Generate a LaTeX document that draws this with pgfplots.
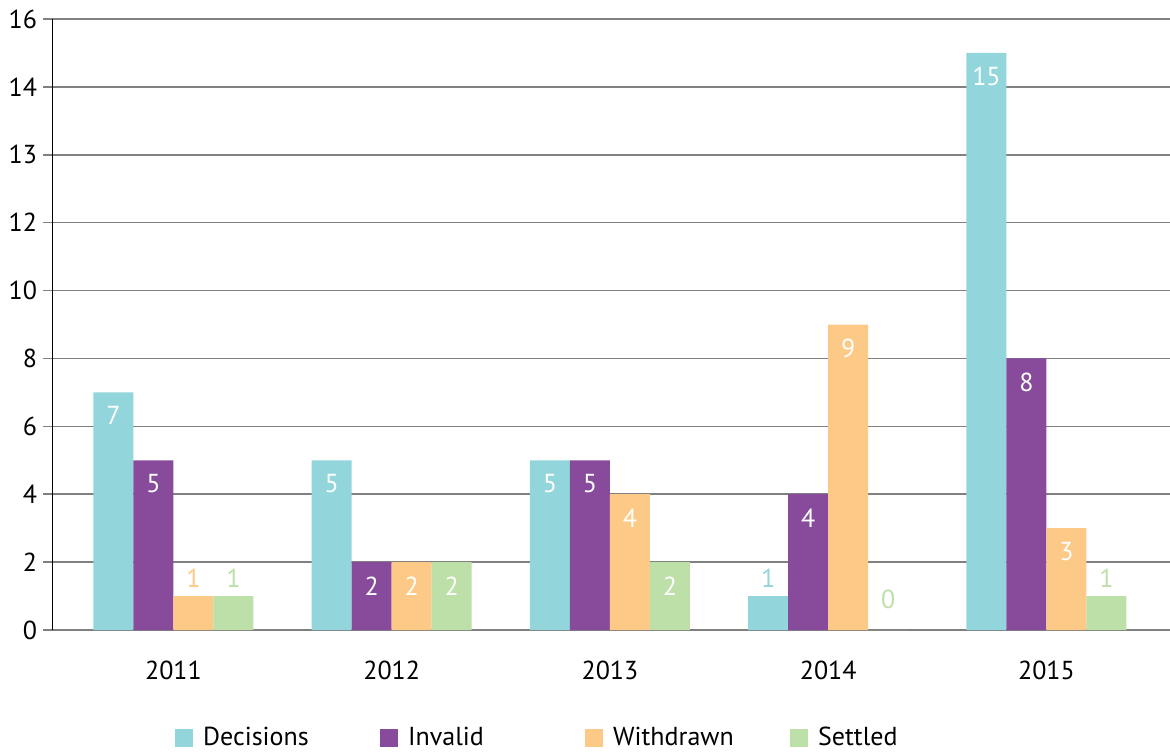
\documentclass[border=0pt]{standalone}
\usepackage{pgfplots}
\usepackage{pgfplotstable}
\pgfplotsset{compat=1.18}
\usepackage{fontspec}
\setmainfont{PT Sans}
\definecolor{cDec}{HTML}{92D5DB}
\definecolor{cInv}{HTML}{884A9B}
\definecolor{cWit}{HTML}{FDC986}
\definecolor{cSet}{HTML}{BDDFA8}
\definecolor{gridc}{HTML}{808080}

\pgfplotstableread{
x d i w s
0 7 5 1 1
1 5 2 2 2
2 5 5 4 2
3 1 4 9 0
4 15 8 3 1
}\datatable

\pgfplotsset{
  mylegend/.style={legend image code/.code={\fill[##1] (0pt,-4.5pt) rectangle (9pt,4.5pt);}},
  inlab/.style={forget plot, draw=none, fill=none, bar shift=#1,
    point meta=explicit,
    nodes near coords,
    nodes near coords style={font=\fontsize{13}{15}\selectfont, inner sep=0pt, anchor=north, text=white, yshift=-7pt}},
  outlab/.style 2 args={forget plot, draw=none, fill=none, bar shift=#1,
    point meta=explicit,
    nodes near coords,
    nodes near coords style={font=\fontsize{13}{15}\selectfont, inner sep=0pt, anchor=south, text=#2, yshift=4pt}},
}

\begin{document}
\begin{tikzpicture}
\begin{axis}[
  scale only axis, width=558.5pt, height=305.5pt,
  ybar=0pt, bar width=20pt,
  xmin=-0.552, xmax=4.566,
  ymin=0, ymax=16,
  y coord trafo/.code={\pgfmathparse{(#1<=12)*(#1)+and(#1>12,#1<=14)*(12+2*(#1-12))+(#1>14)*(16+(#1-14))}},
  ytick={0,2,4,6,8,10,12,13,14,16},
  yticklabels={0,2,4,6,8,10,12,13,14,16},
  xtick={0,1,2,3,4}, xticklabels={2011,2012,2013,2014,2015},
  x tick style={draw=none},
  extra x ticks={-0.552,0.451,1.51,2.51,3.507},
  extra x tick labels={},
  extra x tick style={major tick length=5pt, tick style={black, line width=0.5pt}, xmajorgrids=false},
  tick align=outside,
  y tick style={gridc, line width=0.8pt},
  major tick length=5pt,
  axis x line*=bottom, axis y line*=left,
  x axis line style={gridc, line width=0.8pt, -},
  y axis line style={black, line width=0.5pt, -},
  ymajorgrids, grid style={gridc, line width=0.8pt},
  ticklabel style={font=\fontsize{13}{15}\selectfont, text=black},
  yticklabel style={xshift=0.5pt},
  xticklabel style={yshift=-7pt},
  /pgf/number format/assume math mode=true,
  legend style={draw=none, fill=none, at={(0.109,-0.176)}, anchor=west, inner sep=0pt,
    font=\fontsize{13}{15}\selectfont,
    cells={anchor=west, inner sep=0pt},
    /tikz/every odd column/.append style={column sep=3pt}},
  legend columns=4,
  mylegend,
]
\addplot[fill=cDec, draw=none, mylegend, bar shift=-30pt] table[x=x, y=d] {\datatable};
\addplot[fill=cInv, draw=none, mylegend, bar shift=-10pt] table[x=x, y=i] {\datatable};
\addplot[fill=cWit, draw=none, mylegend, bar shift=10pt] table[x=x, y=w] {\datatable};
\addplot[fill=cSet, draw=none, mylegend, bar shift=30pt] table[x=x, y=s] {\datatable};
\legend{\makebox[86.5pt][l]{Decisions},\makebox[86.5pt][l]{Invalid},\makebox[86.5pt][l]{Withdrawn},\makebox[86.5pt][l]{Settled}}
% labels inside bars
\addplot[inlab=-30pt] coordinates {(0,7) [7] (1,5) [5] (2,5) [5] (4,15) [15]};
\addplot[inlab=-10pt] coordinates {(0,5) [5] (1,2) [2] (2,5) [5] (3,4) [4] (4,8) [8]};
\addplot[inlab=10pt] coordinates {(1,2) [2] (2,4) [4] (3,9) [9] (4,3) [3]};
\addplot[inlab=30pt] coordinates {(1,2) [2] (2,2) [2]};
% labels above small bars
\addplot[outlab={-30pt}{cDec}] coordinates {(3,1) [1]};
\addplot[outlab={10pt}{cWit}] coordinates {(0,1) [1]};
\addplot[outlab={30pt}{cSet}] coordinates {(0,1) [1] (4,1) [1]};
\addplot[outlab={30pt}{cSet}, nodes near coords style={yshift=6.5pt}] coordinates {(3,0) [0]};
\end{axis}
\pgfresetboundingbox
\useasboundingbox (-26.5pt,-60.5pt) rectangle (558.5pt,315pt);
\end{tikzpicture}
\end{document}
